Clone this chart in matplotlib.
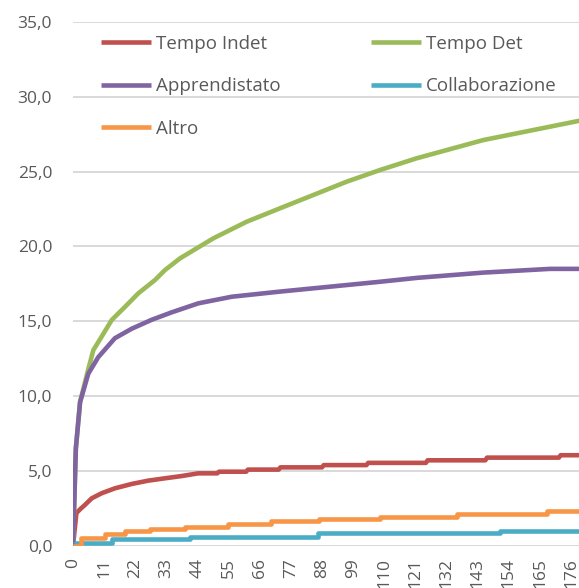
import matplotlib
matplotlib.use("Agg")
import matplotlib.pyplot as plt

# ---- data ----
x_indet = [0, 1.2, 2.5, 4.2, 6.6, 10.1, 14.8, 20.7, 26.5, 32.5, 38.4, 44.2, 51.0, 51.6, 61.2, 61.8,
           72.7, 73.3, 88.0, 88.6, 103.7, 104.3, 124.7, 125.3, 145.7, 146.3, 171.7, 172.3, 179]
y_indet = [0, 2.2, 2.45, 2.74, 3.18, 3.52, 3.85, 4.14, 4.36, 4.52, 4.67, 4.85, 4.85, 4.96, 4.96, 5.1,
           5.1, 5.25, 5.25, 5.4, 5.4, 5.55, 5.55, 5.72, 5.72, 5.9, 5.9, 6.06, 6.06]

x_det = [0, 1, 2.5, 5.4, 7.2, 10.1, 13.7, 18.4, 23.1, 29, 32.5, 37.8, 49.6, 61.4, 73.1, 84.9,
         96.7, 108.5, 121.4, 145, 168.5, 179]
y_det = [0, 6.5, 9.63, 11.8, 13.08, 13.97, 15.09, 15.97, 16.87, 17.76, 18.42, 19.2, 20.54, 21.65,
         22.54, 23.43, 24.32, 25.1, 25.88, 27.1, 27.99, 28.39]

x_appr = [0, 1, 2.5, 5.4, 8.9, 14.8, 20.7, 27.8, 34.9, 44.3, 56.1, 73, 101, 108.5, 121.6, 144.9, 168.6, 179]
y_appr = [0, 6.5, 9.6, 11.5, 12.6, 13.87, 14.5, 15.1, 15.6, 16.2, 16.64, 16.98, 17.5, 17.64, 17.9,
          18.25, 18.5, 18.5]

x_coll = [0, 1, 13.7, 41.3, 86.5, 151, 179]
y_coll = [0, 0.2, 0.45, 0.62, 0.85, 1.02, 1.02]

x_altro = [0, 3, 11.3, 18.4, 27.2, 39.6, 54.8, 70, 87, 108.5, 135.7, 167.5, 179]
y_altro = [0, 0.55, 0.8, 0.98, 1.12, 1.3, 1.45, 1.65, 1.82, 1.96, 2.15, 2.33, 2.33]

series = ["Tempo Indet", "Tempo Det", "Apprendistato", "Collaborazione", "Altro"]
colors = ["#C0504D", "#9BBB59", "#8064A2", "#4BACC6", "#F79646"]

xtick_vals = list(range(0, 177, 11))
ytick_vals = [0, 5, 10, 15, 20, 25, 30, 35]
ytick_labels = ["0,0", "5,0", "10,0", "15,0", "20,0", "25,0", "30,0", "35,0"]

# ---- figure ----
plt.rcParams["font.family"] = ["Open Sans", "DejaVu Sans"]
text_color = "#595959"

fig = plt.figure(figsize=(5.79, 5.88), dpi=100)
ax = fig.add_axes([73 / 579, 1 - 546 / 588, 1 - 73 / 579, (546 - 21.7) / 588])

lw = 3.3
lines = {}
lines["Tempo Indet"], = ax.plot(x_indet, y_indet, color=colors[0], lw=lw, solid_capstyle="butt", zorder=3)
lines["Tempo Det"], = ax.plot(x_det, y_det, color=colors[1], lw=lw, solid_capstyle="butt", zorder=4)
lines["Apprendistato"], = ax.plot(x_appr, y_appr, color=colors[2], lw=lw, solid_capstyle="butt", zorder=5)
lines["Collaborazione"], = ax.plot(x_coll, y_coll, color=colors[3], lw=lw, drawstyle="steps-post",
                                   solid_capstyle="butt", zorder=6)
lines["Altro"], = ax.plot(x_altro, y_altro, color=colors[4], lw=lw, drawstyle="steps-post",
                          solid_capstyle="butt", zorder=7)

ax.set_xlim(0, 178.8)
ax.set_ylim(0, 35)
ax.set_yticks(ytick_vals)
ax.set_yticklabels(ytick_labels)
ax.set_xticks(xtick_vals)
ax.set_xticklabels([str(v) for v in xtick_vals], rotation=90, va="top", ha="center")
ax.tick_params(axis="both", length=0, labelsize=12.5, labelcolor=text_color)
ax.tick_params(axis="y", pad=15)
ax.tick_params(axis="x", pad=9)

ax.grid(axis="y", color="#D9D9D9", lw=1.4)
ax.set_axisbelow(True)
for s in ax.spines.values():
    s.set_visible(False)
ax.axhline(0, color="#D9D9D9", lw=1.4, zorder=1)

order = ["Tempo Indet", "Apprendistato", "Altro", "Tempo Det", "Collaborazione"]
leg = ax.legend([lines[k] for k in order], order, ncol=2, frameon=False,
                loc="upper left", bbox_to_anchor=(101 / 579, 1 - 35 / 588),
                bbox_transform=fig.transFigure,
                fontsize=13.5, handlelength=2.67, handletextpad=0.27,
                labelspacing=1.3, columnspacing=4.8, borderpad=0, borderaxespad=0)
for t in leg.get_texts():
    t.set_color(text_color)

fig.savefig("out.png", dpi=100)
